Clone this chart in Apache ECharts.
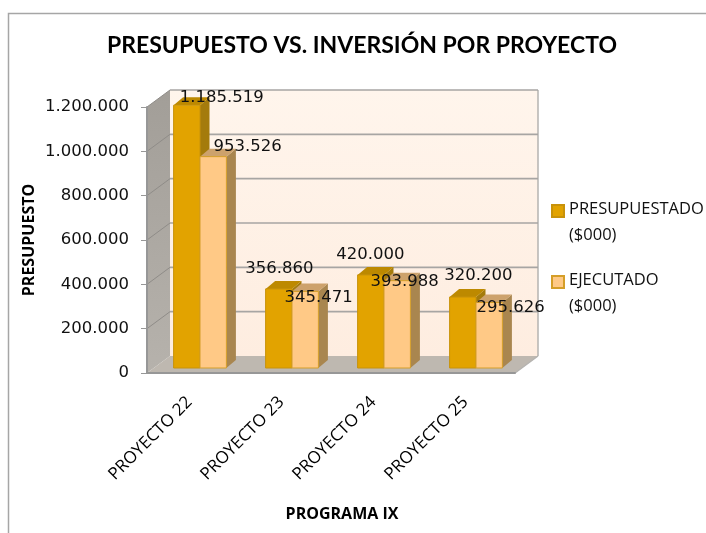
<!DOCTYPE html>
<html><head><meta charset="utf-8">
<style>html,body{margin:0;padding:0;background:#fff}#c{width:706px;height:533px}</style>
<script src="https://cdn.jsdelivr.net/npm/echarts@6/dist/echarts.min.js"></script>
</head><body><div id="c"></div>
<script>
const categories = ['PROYECTO 22','PROYECTO 23','PROYECTO 24','PROYECTO 25'];
const presupuestado = [1185519,356860,420000,320200];
const ejecutado = [953526,345471,393988,295626];
const yTicks = [0,200000,400000,600000,800000,1000000,1200000];
const titleText = 'PRESUPUESTO VS. INVERSIÓN POR PROYECTO';
const xName = 'PROGRAMA IX', yName = 'PRESUPUESTO';
const nameA = 'PRESUPUESTADO\n($000)', nameB = 'EJECUTADO\n($000)';

// label nudges (layout only), px from the top-centre of each bar's front face
const nudgeA = [[35,-7],[0.5,-20],[-0.5,-20],[15.5,-21]];
const nudgeB = [[34.5,-10],[13.5,6],[7.5,1],[21.5,5]];

const DX = 23, DY = 17;       // wall depth
const BX = 7, BY = 5;         // bar front-plane offset
const BDX = 9.5, BDY = 8;     // bar depth
const fmt = v => String(v).replace(/\B(?=(\d{3})+(?!\d))/g,'.');
const poly = (pts, fill, stroke) => ({type:'polygon',shape:{points:pts},style:{fill,stroke:stroke||fill,lineWidth:stroke?1:0}});

function wallItem(params, api){
  const cs = params.coordSys, v = api.value(0);
  const L = cs.x, R = cs.x+cs.width, T = cs.y, B = cs.y+cs.height;
  const y = api.coord([0,v])[1];
  const ch = [];
  if(params.dataIndex===0){
    ch.push(poly([[L+DX,T-DY],[R+DX,T-DY],[R+DX,B-DY],[L+DX,B-DY]],
      {type:'linear',x:0,y:0,x2:0,y2:1,colorStops:[{offset:0,color:'#FFF5EC'},{offset:1,color:'#FEEDE0'}]}));
    ch.push(poly([[L,T],[L+DX,T-DY],[L+DX,B-DY],[L,B]],
      {type:'linear',x:0,y:0,x2:0,y2:1,colorStops:[{offset:0,color:'#A29E98'},{offset:1,color:'#B6B2AC'}]}));
    ch.push(poly([[L,B],[R,B],[R+DX,B-DY],[L+DX,B-DY]],'#BEB8B0'));
    ch.push({type:'line',shape:{x1:R+DX,y1:T-DY,x2:R+DX,y2:B-DY},style:{stroke:'#B5B3B0',lineWidth:1.5}});
    ch.push({type:'line',shape:{x1:R,y1:B,x2:R+DX,y2:B-DY},style:{stroke:'#B5B3B0',lineWidth:1.5}});
  }
  ch.push({type:'line',shape:{x1:L+DX,y1:y-DY,x2:R+DX,y2:y-DY},style:{stroke:'#A7A5A3',lineWidth:v===0?0:1.6}});
  ch.push({type:'line',shape:{x1:L,y1:y,x2:L+DX,y2:y-DY},style:{stroke:'#8F8C88',lineWidth:v===0?0:1}});
  return {type:'group',children:ch};
}

function barItem(side, cols, nudge){
  return function(params, api){
    const i = api.value(0), v = api.value(1);
    const p = api.coord([i,v]), p0 = api.coord([i,0]);
    const band = api.size([1,0])[0], w = band*0.287;
    const x0 = p[0]+BX+(side<0?-w:0), x1 = x0+w;
    const yt = p[1]-BY, yb = p0[1]-BY;
    const n = nudge[params.dataIndex];
    return {type:'group',children:[
      poly([[x1,yt],[x1+BDX,yt-BDY],[x1+BDX,yb-BDY],[x1,yb]], cols.side),
      poly([[x0,yt],[x0+BDX,yt-BDY],[x1+BDX,yt-BDY],[x1,yt]], cols.top),
      poly([[x0,yt],[x1,yt],[x1,yb],[x0,yb]], cols.front, cols.edge),
      {type:'text',z2:100,x:(x0+x1)/2+n[0],y:yt+n[1],
       style:{text:fmt(v),fill:'#111',font:'16.5px "DejaVu Sans"',align:'center',verticalAlign:'middle'}}
    ]};
  };
}
const colsA = {front:'#E2A300',top:'#BD8900',side:'#A47B0C',edge:'#C8920A'};
const colsB = {front:'#FFC986',top:'#CDA26C',side:'#A9864F',edge:'#D59E28'};

const chart = echarts.init(document.getElementById('c'),null,{renderer:'canvas'});
chart.setOption({
  animation:false,
  backgroundColor:'#fff',
  title:{text:titleText,left:357,top:29,textAlign:'center',
    textStyle:{fontFamily:'Lato',fontWeight:'bold',fontSize:23,color:'#000'}},
  grid:{left:147,top:107,width:368,height:266,containLabel:false},
  xAxis:{type:'category',data:categories,z:3,
    name:xName,nameLocation:'middle',nameGap:133,nameMoveOverlap:false,
    nameTextStyle:{fontFamily:'Open Sans',fontWeight:'bold',fontSize:16,color:'#000',padding:[0,0,0,22]},
    axisLine:{lineStyle:{color:'#979797',width:2}},
    axisTick:{alignWithLabel:false,length:7,lineStyle:{color:'#979797',width:1}},
    axisLabel:{rotate:45,margin:23,padding:[0,5,0,0],interval:0,fontFamily:'Open Sans',fontSize:17,color:'#000'}},
  yAxis:{type:'value',min:0,max:1200000,interval:200000,z:3,
    name:yName,nameLocation:'middle',nameGap:110,nameMoveOverlap:false,
    nameTextStyle:{fontFamily:'Open Sans',fontWeight:'bold',fontSize:16,color:'#000'},
    splitLine:{show:false},
    axisLine:{show:true,lineStyle:{color:'#979797',width:2}},
    axisTick:{show:true,length:6,lineStyle:{color:'#979797',width:1}},
    axisLabel:{margin:18,fontFamily:'DejaVu Sans',fontSize:16.5,color:'#111',formatter:fmt}},
  legend:{orient:'vertical',left:546,top:191,itemGap:19,itemWidth:12,itemHeight:34,
    icon:'path://M0 0H12V12H0ZM0 34',
    selectedMode:false,
    textStyle:{fontFamily:'Open Sans',fontSize:16.5,lineHeight:26,color:'#111',padding:[0,0,0,0]},
    data:[{name:nameA},{name:nameB}]},
  graphic:[{type:'polyline',silent:true,shape:{points:[[8.5,533],[8.5,13.5],[706,13.5]]},
    style:{fill:'none',stroke:'#A6A6A6',lineWidth:1.5}}],
  series:[
    {type:'custom',name:'walls',data:yTicks.map(v=>[v]),renderItem:wallItem,silent:true,z:1,encode:{y:0}},
    {type:'custom',name:nameA,renderItem:barItem(-1,colsA,nudgeA),z:2,
      itemStyle:{color:colsA.front,borderColor:colsA.edge,borderWidth:1},
      data:presupuestado.map((v,i)=>[i,v]),encode:{x:0,y:1}},
    {type:'custom',name:nameB,renderItem:barItem(1,colsB,nudgeB),z:2,
      itemStyle:{color:colsB.front,borderColor:colsB.edge,borderWidth:1},
      data:ejecutado.map((v,i)=>[i,v]),encode:{x:0,y:1}}
  ]
});
</script></body></html>
